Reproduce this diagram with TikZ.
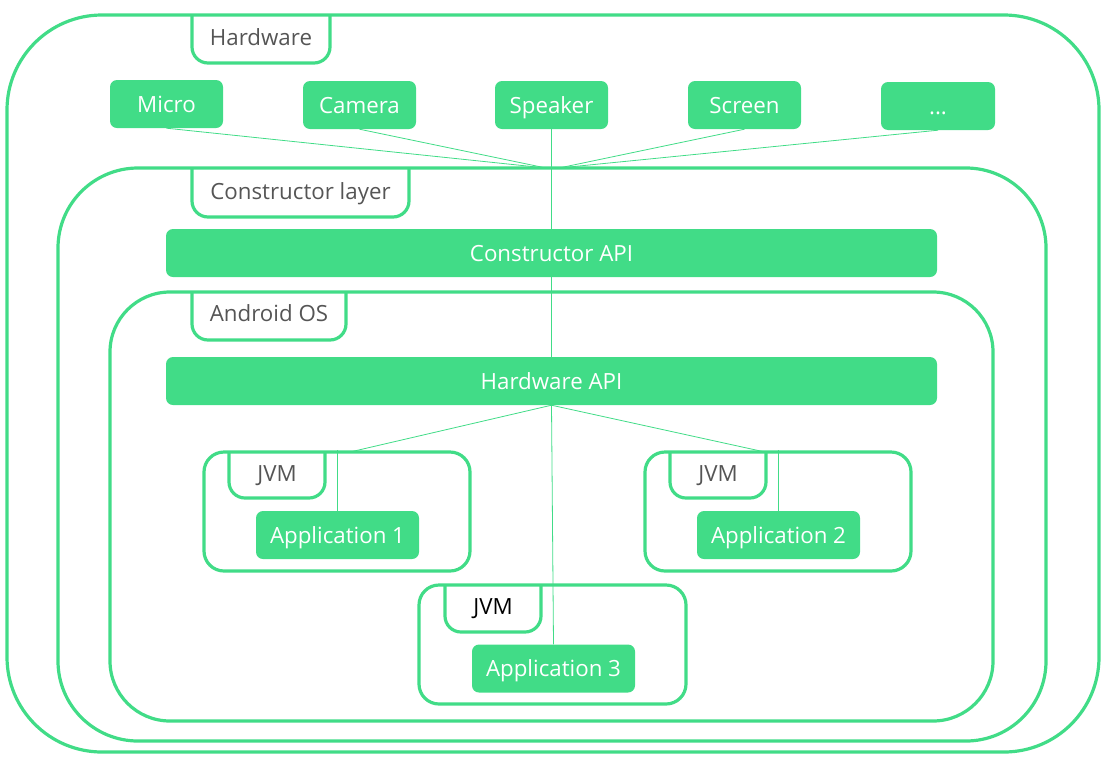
\documentclass[tikz,border=0pt]{standalone}
\usepackage{fontspec}
\setmainfont{Open Sans}
\usetikzlibrary{positioning}
\definecolor{leaf}{RGB}{65,220,135}
\definecolor{ink}{RGB}{85,85,85}
\tikzset{box/.style={fill=leaf, text=white, rounded corners=7pt, minimum height=48pt, inner sep=0pt, text height=20pt, text depth=4pt, font=\fontsize{22.3}{25}\selectfont}}
\tikzset{layer/.style={draw=leaf, line width=3.2pt, inner sep=0pt}}
\tikzset{tab/.style={draw=leaf, line width=3.2pt, rounded corners=16pt}}
\tikzset{l/.style={text=ink, inner sep=0pt, text height=20pt, text depth=4pt, font=\fontsize{22.3}{25}\selectfont}}
\tikzset{wire/.style={draw=leaf, line width=0.8pt}}

\begin{document}
\begin{tikzpicture}[x=1pt,y=-1pt]
      \useasboundingbox (0,0) rectangle (1107,761);
      % layers
      \node[layer, rounded corners=95pt, minimum width=1092pt, minimum height=737pt] (hw) at (553,383.5) {};
      \node[layer, rounded corners=80pt, minimum width=988pt, minimum height=573pt] (cl) at (552,454.5) {};
      \node[layer, rounded corners=60pt, minimum width=883pt, minimum height=429pt] (os) at (551.5,506.5) {};
      \draw[tab] (192,15) -- (192,63) -- (330,63) -- (330,15);
      \node[l] (hwtag) at (261,37) {Hardware};
      \draw[tab] (192,168) -- (192,217) -- (409,217) -- (409,168);
      \node[l] (cltag) at (300.5,191) {Constructor layer};
      \draw[tab] (192,292) -- (192,340) -- (346,340) -- (346,292);
      \node[l] (ostag) at (269,313) {Android OS};
      % devices
      \node[box, minimum width=113pt] (micro) at (166.5,104) {Micro};
      \node[box, minimum width=113pt] (camera) at (359.5,105) {Camera};
      \node[box, minimum width=113pt] (speaker) at (551.5,105) {Speaker};
      \node[box, minimum width=113pt] (screen) at (744.5,105) {Screen};
      \node[box, minimum width=114pt] (more) at (938,106) {...};
      % apis
      \node[box, minimum width=771pt] (capi) at (551.5,253) {Constructor API};
      \node[box, minimum width=771pt] (hwapi) at (551.5,381) {Hardware API};
      % virtual machines
      \node[layer, rounded corners=20pt, minimum width=266pt, minimum height=119pt] (vm1) at (337,511.5) {};
      \node[layer, rounded corners=20pt, minimum width=266pt, minimum height=119pt] (vm2) at (778,511.5) {};
      \node[layer, rounded corners=20pt, minimum width=267pt, minimum height=119pt] (vm3) at (552.5,644.5) {};
      \draw[tab] (229,452) -- (229,498) -- (325,498) -- (325,452);
      \node[l] (vm1tag) at (277,473) {JVM};
      \draw[tab] (670,452) -- (670,498) -- (766,498) -- (766,452);
      \node[l] (vm2tag) at (718,473) {JVM};
      \draw[tab] (445,585) -- (445,632) -- (541,632) -- (541,585);
      \node[l, text=black] (vm3tag) at (493,606) {JVM};
      \node[box, minimum width=163pt] (app1) at (337.5,535) {Application 1};
      \node[box, minimum width=163pt] (app2) at (778.5,535) {Application 2};
      \node[box, minimum width=163pt] (app3) at (553.5,668.5) {Application 3};
      % wires
      \coordinate (hubl) at (546,168);
      \coordinate (hubr) at (559,168);
      \coordinate (hook1) at (350,452);
      \coordinate (hook2) at (765,452);
      \draw[wire] (micro.south) -- (hubl);
      \draw[wire] (camera.south) -- (hubl);
      \draw[wire] (screen.south) -- (hubr);
      \draw[wire] (more.south) -- (hubr);
      \draw[wire] (speaker.south) -- (capi.north);
      \draw[wire] (capi.south) -- (hwapi.north);
      \draw[wire] (hwapi.south) -- (hook1);
      \draw[wire] (hwapi.south) -- (hook2);
      \draw[wire] (hwapi.south) -- (app3.north);
      \draw[wire] (app1.north) -- (app1.north |- vm1.north);
      \draw[wire] (app2.north) -- (app2.north |- vm2.north);
    \end{tikzpicture}
\end{document}
